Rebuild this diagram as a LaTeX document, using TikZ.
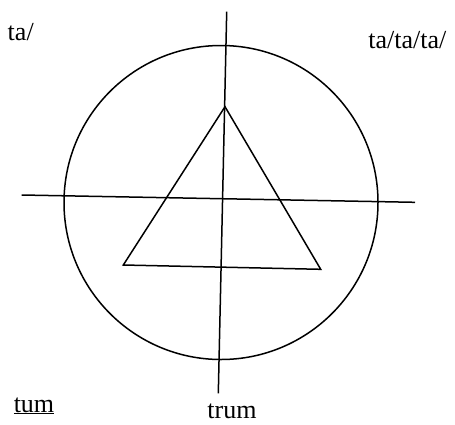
\documentclass[tikz,border=0pt]{standalone}
\usepackage{fontspec}
\setmainfont{Liberation Serif}
\begin{document}
\begin{tikzpicture}[x=1pt,y=-1pt,line width=1.5pt,
  lbl/.style={inner sep=0pt,font=\fontsize{26}{30}\selectfont}]
\useasboundingbox (0,0) rectangle (455,424);
\coordinate (vt) at (226.7,11.7);
\coordinate (vb) at (218.3,393.3);
\coordinate (hl) at (21.7,195);
\coordinate (hr) at (415,202.3);
\coordinate (c) at (221,202.5);
\coordinate (ta) at (225,106.7);
\coordinate (tl) at (123.3,265);
\coordinate (tr) at (320.7,269.3);
\draw (c) circle[radius=157];
\draw (vt) -- (vb);
\draw (hl) -- (hr);
\draw (ta) -- (tl) -- (tr) -- cycle;
\node[lbl,anchor=base west] (n1) at (7,40) {ta/};
\node[lbl,anchor=base east] (n2) at (447,48) {ta/ta/ta/};
\node[lbl,anchor=base west] (n3) at (13,412) {\underline{tum}};
\node[lbl,anchor=base] (n4) at (232,418) {trum};
\end{tikzpicture}
\end{document}
